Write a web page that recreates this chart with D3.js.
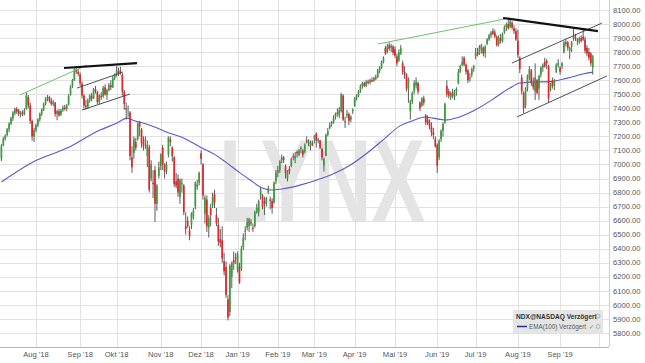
<!DOCTYPE html>
<html>
<head>
<meta charset="utf-8">
<script src="https://cdn.jsdelivr.net/npm/d3@7"></script>
<style>
  body { margin: 0; background: #fff; }
  svg { display: block; font-family: "Liberation Sans", Arial, sans-serif; }
</style>
</head>
<body>
<div id="chart"></div>
<script>
const width = 645;
const height = 363;

// month gridlines: index of first trading day, label
const monthStarts = [18, 41, 60, 83, 104, 123, 144, 163, 184, 205, 227, 247, 269, 291, 311];
const monthLabels = ["Aug '18", "Sep '18", "Okt '18", "Nov '18", "Dez '18", "Jan '19", "Feb '19",
                     "Mar '19", "Apr '19", "Mai '19", "Jun '19", "Jul '19", "Aug '19", "Sep '19", ""];
const yTicks = d3.range(5800, 8101, 100);

// daily candles [open, high, low, close], Jul 2018 - Sep 2019
const candles = [
  // Jul 18
  [7040,7145,7025,7130],[7135,7195,7130,7185],[7185,7215,7170,7205],[7210,7260,7200,7250],
  [7250,7300,7230,7290],[7290,7340,7280,7330],[7330,7380,7310,7370],[7365,7405,7350,7395],
  [7395,7410,7360,7375],[7385,7395,7345,7360],[7360,7380,7335,7370],[7370,7385,7345,7355],
  [7360,7400,7350,7390],[7395,7510,7390,7490],[7480,7495,7400,7420],[7420,7440,7290,7310],
  [7310,7320,7170,7200],[7200,7260,7160,7245],
  // Aug 18
  [7245,7290,7230,7280],[7280,7330,7265,7320],[7320,7370,7305,7360],[7360,7400,7345,7390],
  [7390,7440,7380,7430],[7430,7480,7420,7470],[7470,7495,7450,7480],[7480,7490,7440,7455],
  [7455,7475,7420,7430],[7435,7460,7415,7445],[7440,7445,7340,7360],[7360,7390,7315,7380],
  [7380,7395,7340,7350],[7355,7395,7345,7385],[7385,7420,7375,7405],[7405,7425,7385,7395],
  [7395,7430,7380,7420],[7425,7500,7420,7490],[7495,7565,7490,7555],[7560,7610,7545,7600],
  [7600,7690,7595,7675],[7675,7700,7645,7660],[7660,7680,7630,7645],
  // Sep 18
  [7640,7655,7560,7580],[7575,7590,7470,7490],[7490,7500,7400,7420],[7420,7460,7390,7410],
  [7410,7470,7395,7455],[7455,7500,7440,7490],[7490,7510,7450,7470],[7470,7545,7465,7535],
  [7535,7560,7505,7520],[7515,7525,7430,7445],[7445,7500,7430,7490],[7490,7515,7460,7480],
  [7485,7560,7475,7545],[7550,7570,7490,7500],[7495,7540,7460,7530],[7530,7580,7520,7565],
  [7565,7600,7530,7550],[7550,7630,7545,7615],[7615,7650,7600,7640],
  // Okt 18
  [7650,7700,7625,7665],[7665,7690,7630,7650],[7670,7695,7640,7655],[7640,7650,7490,7520],
  [7520,7530,7390,7430],[7400,7440,7320,7390],[7385,7420,7340,7385],[7370,7380,7030,7060],
  [7050,7130,6940,6980],[7080,7200,7040,7180],[7160,7190,7100,7120],[7180,7300,7170,7290],
  [7300,7310,7200,7270],[7250,7260,7120,7150],[7160,7200,7100,7130],[7160,7200,7110,7180],
  [7060,7170,6980,7140],[7120,7140,6800,6820],[6900,7030,6880,7000],[6870,6960,6760,6860],
  [6960,6990,6590,6720],[6720,6860,6670,6850],[6920,7020,6900,6980],
  // Nov 18
  [6990,7080,6960,7070],[7120,7140,6960,7000],[7000,7010,6900,6950],[6950,7020,6930,7000],
  [7070,7200,7050,7195],[7180,7200,7130,7160],[7120,7130,7020,7060],[7050,7060,6840,6860],
  [6880,6940,6830,6850],[6900,6930,6770,6800],[6770,6900,6720,6890],[6860,6900,6800,6870],
  [6850,6860,6640,6660],[6560,6660,6500,6540],[6600,6630,6550,6560],[6530,6560,6460,6490],
  [6570,6660,6540,6650],[6630,6690,6610,6670],[6700,6880,6680,6870],[6840,6890,6820,6860],
  [6870,6950,6850,6940],
  // Dez 18
  [7080,7100,7000,7040],[7000,7010,6750,6780],[6650,6780,6580,6760],[6750,6780,6520,6560],
  [6550,6640,6480,6620],[6690,6720,6560,6640],[6710,6800,6690,6770],[6790,6820,6690,6730],
  [6640,6690,6560,6580],[6570,6620,6420,6450],[6470,6540,6410,6440],[6460,6560,6300,6330],
  [6310,6370,6210,6240],[6270,6310,6050,6070],[6040,6070,5890,5910],[5950,6290,5920,6280],
  [6200,6310,6120,6300],[6320,6380,6250,6300],[6340,6370,6290,6330],
  // Jan 19
  [6250,6380,6230,6360],[6270,6300,6150,6160],[6260,6420,6240,6400],[6410,6510,6390,6480],
  [6520,6560,6460,6530],[6550,6620,6530,6590],[6560,6620,6520,6610],[6590,6610,6560,6580],
  [6550,6580,6520,6540],[6560,6670,6550,6660],[6660,6720,6650,6690],[6660,6750,6630,6740],
  [6780,6840,6750,6820],[6780,6790,6680,6700],[6740,6770,6640,6720],[6720,6770,6700,6760],
  [6800,6850,6790,6830],[6750,6770,6680,6740],[6740,6760,6650,6690],[6730,6880,6720,6870],
  [6880,6960,6860,6940],
  // Feb 19
  [6940,6990,6910,6960],[6960,7030,6940,7020],[7030,7070,7010,7050],[7050,7060,7010,7030],
  [6990,7000,6900,6940],[6900,6960,6880,6950],[6970,6990,6930,6950],[6990,7050,6980,7040],
  [7060,7080,7030,7050],[7040,7090,7010,7060],[7090,7100,7050,7080],[7070,7110,7060,7100],
  [7110,7130,7080,7120],[7100,7110,7050,7070],[7090,7150,7080,7140],[7170,7200,7150,7160],
  [7150,7180,7130,7160],[7130,7170,7100,7160],[7150,7170,7130,7140],
  // Mar 19
  [7190,7210,7150,7200],[7220,7230,7120,7170],[7170,7190,7150,7180],[7170,7175,7110,7120],
  [7110,7120,7030,7050],[6990,7050,6950,7040],[7060,7220,7060,7210],[7210,7260,7200,7240],
  [7260,7300,7250,7280],[7290,7310,7270,7300],[7300,7350,7290,7330],[7340,7370,7320,7360],
  [7370,7400,7340,7360],[7350,7410,7330,7390],[7380,7510,7370,7500],[7490,7500,7310,7320],
  [7300,7340,7260,7310],[7350,7390,7330,7360],[7360,7370,7280,7310],[7320,7350,7300,7340],
  [7380,7400,7360,7390],
  // Apr 19
  [7420,7480,7410,7470],[7470,7500,7455,7490],[7490,7530,7480,7520],[7520,7570,7510,7560],
  [7560,7590,7540,7580],[7580,7590,7550,7560],[7560,7600,7550,7590],[7590,7605,7570,7580],
  [7585,7610,7570,7600],[7600,7620,7585,7590],[7595,7625,7590,7615],[7620,7640,7600,7610],
  [7620,7680,7615,7670],[7670,7700,7650,7690],[7690,7740,7680,7730],[7730,7770,7720,7760],
  [7830,7845,7780,7790],[7800,7860,7790,7840],[7850,7870,7810,7825],[7830,7860,7800,7845],
  [7840,7850,7780,7795],
  // Mai 19
  [7820,7840,7760,7775],[7770,7790,7700,7720],[7740,7820,7730,7800],[7790,7850,7780,7830],
  [7720,7740,7640,7660],[7660,7700,7610,7640],[7640,7650,7520,7540],[7540,7620,7440,7610],
  [7380,7460,7320,7450],[7450,7520,7430,7510],[7520,7600,7500,7580],[7560,7620,7540,7590],
  [7580,7590,7500,7520],[7440,7450,7380,7400],[7420,7480,7410,7470],[7470,7490,7420,7440],
  [7350,7360,7280,7300],[7320,7350,7280,7290],[7300,7320,7250,7270],[7270,7300,7200,7230],
  [7230,7260,7180,7210],[7180,7200,7120,7130],
  // Jun 19
  [7140,7150,6940,6990],[7050,7180,7030,7170],[7180,7250,7160,7240],[7240,7300,7200,7290],
  [7300,7440,7290,7430],[7560,7600,7480,7500],[7520,7540,7470,7490],[7480,7520,7460,7510],
  [7510,7540,7470,7490],[7480,7530,7460,7520],[7520,7550,7490,7540],[7580,7680,7570,7660],
  [7660,7710,7650,7700],[7710,7770,7700,7730],[7760,7770,7700,7710],[7710,7720,7640,7660],
  [7670,7680,7580,7600],[7610,7650,7590,7620],[7640,7690,7620,7680],[7680,7710,7660,7700],
  // Jul 19
  [7770,7830,7750,7790],[7800,7830,7770,7780],[7790,7850,7780,7840],[7820,7860,7790,7850],
  [7830,7840,7770,7790],[7790,7850,7760,7840],[7860,7900,7850,7890],[7890,7930,7880,7920],
  [7920,7950,7900,7940],[7950,7970,7920,7930],[7940,7960,7900,7910],[7910,7920,7840,7850],
  [7860,7920,7840,7900],[7900,7930,7860,7880],[7880,7940,7870,7930],[7940,7990,7930,7980],
  [7980,8010,7950,8000],[8000,8040,7960,7970],[7980,8040,7970,8020],[8010,8020,7960,7975],
  [7970,7990,7930,7950],[7950,7970,7880,7890],
  // Aug 19
  [7880,7960,7760,7780],[7760,7770,7650,7680],[7620,7640,7500,7520],[7510,7520,7365,7400],
  [7420,7550,7400,7540],[7540,7640,7520,7630],[7620,7700,7600,7680],[7670,7680,7560,7580],
  [7580,7620,7530,7550],[7520,7720,7460,7620],[7600,7610,7500,7510],[7540,7640,7460,7630],
  [7640,7700,7620,7690],[7690,7720,7660,7710],[7730,7760,7690,7700],[7740,7750,7680,7720],
  [7700,7710,7440,7470],[7540,7580,7520,7570],[7600,7620,7540,7560],[7560,7610,7530,7600],
  [7660,7720,7650,7710],[7710,7750,7690,7725],
  // Sep 19
  [7690,7700,7640,7660],[7700,7730,7680,7720],[7800,7880,7790,7870],[7870,7890,7840,7860],
  [7870,7880,7810,7830],[7810,7840,7750,7830],[7840,7880,7800,7870],[7900,7970,7880,7910],
  [7910,7930,7880,7895],[7880,7900,7850,7890],[7870,7910,7860,7900],[7900,7920,7870,7880],
  [7910,7960,7880,7890],[7890,7910,7790,7810],[7830,7850,7770,7790],[7800,7830,7740,7760],
  [7790,7800,7700,7720],[7690,7780,7640,7770]
];

// EMA(100): [trading day index, value]
const emaPts = [
  [0,6875],[16.5,7017],[34.2,7117],[51.4,7245],[60.2,7295],[65.4,7330],[68.5,7315],
  [77.4,7280],[86.3,7230],[94.6,7190],[103.4,7125],[111.3,7070],[116.5,7020],[124.3,6940],
  [129.5,6890],[136.3,6830],[139.9,6818],[146.1,6825],[155.5,6853],[164.4,6890],[172.7,6932],
  [181.6,6995],[190.4,7080],[198.8,7175],[207.6,7275],[213.8,7310],[220.6,7338],[224.8,7330],
  [231,7317],[237.8,7335],[246.7,7388],[255.5,7460],[259.7,7500],[264.9,7545],[270.1,7580],
  [276.9,7587],[285.7,7590],[294.6,7615],[302.9,7644],[308,7658]
];

// drawn trend lines: [[i1, p1], [i2, p2]]
const greenLines = [[[9.7,7495],[44.6,7708]], [[196.1,7858],[262.3,8036]]];
const blackLines = [[[32.6,7687],[70.6,7722]], [[261.3,8043],[310.7,7950]]];
const channelLines = [
  [[39.4,7544],[63.3,7658]], [[42,7388],[67,7502]],
  [[265.9,7722],[312.8,8007]], [[268.5,7338],[315.4,7630]]
];

const svg = d3.select("#chart").append("svg")
  .attr("width", width)
  .attr("height", height);

const x = d3.scaleLinear().domain([0, 311]).range([1.4, 598.5]);
const y = d3.scaleLinear().domain([5800, 8100]).range([333, 10]);
const plotRight = 609;
const plotBottom = 347;

// grid
svg.append("g").selectAll("line")
  .data(yTicks)
  .join("line")
  .attr("x1", 0).attr("x2", plotRight)
  .attr("y1", d => Math.round(y(d)) + 0.5).attr("y2", d => Math.round(y(d)) + 0.5)
  .attr("stroke", "#e1e1e1");

svg.append("g").selectAll("line")
  .data(monthStarts)
  .join("line")
  .attr("x1", d => Math.round(x(d)) + 0.5).attr("x2", d => Math.round(x(d)) + 0.5)
  .attr("y1", 0).attr("y2", plotBottom)
  .attr("stroke", "#e1e1e1");

// watermark
svg.append("text")
  .attr("x", 219)
  .attr("y", 221)
  .attr("textLength", 206)
  .attr("lengthAdjust", "spacingAndGlyphs")
  .style("font-size", "116px")
  .style("font-weight", "bold")
  .attr("fill", "#e4e4e4")
  .text("LYNX");

// axes frame
svg.append("line").attr("x1", 0).attr("x2", plotRight).attr("y1", plotBottom + 0.5).attr("y2", plotBottom + 0.5)
  .attr("stroke", "#b5b5b5");
svg.append("line").attr("x1", plotRight + 0.5).attr("x2", plotRight + 0.5).attr("y1", 0).attr("y2", plotBottom)
  .attr("stroke", "#d0d0d0");

svg.append("g").selectAll("text")
  .data(yTicks)
  .join("text")
  .attr("x", 613)
  .attr("y", d => y(d))
  .attr("dy", "0.35em")
  .attr("fill", "#555")
  .style("font-size", "7.6px")
  .text(d => d3.format(".2f")(d));

svg.append("g").selectAll("text")
  .data(monthStarts)
  .join("text")
  .attr("x", d => x(d))
  .attr("y", 357)
  .attr("text-anchor", "middle")
  .attr("fill", "#555")
  .style("font-size", "7.6px")
  .text((d, i) => monthLabels[i]);

// EMA(100)
svg.append("path")
  .datum(emaPts)
  .attr("fill", "none")
  .attr("stroke", "#5a5ac8")
  .attr("stroke-width", 1.1)
  .attr("d", d3.line().curve(d3.curveMonotoneX).x(d => x(d[0])).y(d => y(d[1])));

// candles
const candleColor = d => d[3] > d[0] ? "#3a9f3a" : d[3] < d[0] ? "#e2262b" : "#9a9a9a";
const cg = svg.append("g");
cg.selectAll("line")
  .data(candles)
  .join("line")
  .attr("x1", (d, i) => x(i)).attr("x2", (d, i) => x(i))
  .attr("y1", d => y(d[1])).attr("y2", d => y(d[2]))
  .attr("stroke", "#4a4a4a")
  .attr("stroke-width", 0.9);
cg.selectAll("rect")
  .data(candles)
  .join("rect")
  .attr("x", (d, i) => x(i) - 0.85)
  .attr("width", 1.7)
  .attr("y", d => y(Math.max(d[0], d[3])))
  .attr("height", d => Math.max(1, Math.abs(y(d[0]) - y(d[3]))))
  .attr("fill", candleColor);

// trend lines
const seg = (lines, color, w) => {
  svg.append("g").selectAll("line")
    .data(lines)
    .join("line")
    .attr("x1", d => x(d[0][0])).attr("y1", d => y(d[0][1]))
    .attr("x2", d => x(d[1][0])).attr("y2", d => y(d[1][1]))
    .attr("stroke", color)
    .attr("stroke-width", w);
};
seg(greenLines, "#6cc26c", 1);
seg(channelLines, "#3c3c3c", 0.9);
seg(blackLines, "#111", 2.2);

// legend
const lg = svg.append("g");
lg.append("rect").attr("x", 513).attr("y", 310).attr("width", 90).attr("height", 23).attr("fill", "#e5e5e5");
lg.append("text").attr("x", 516).attr("y", 318.5).style("font-size", "6.6px").style("font-weight", "bold")
  .attr("fill", "#333").text("NDX@NASDAQ Verzögert");
lg.append("circle").attr("cx", 598).attr("cy", 316).attr("r", 2).attr("fill", "none").attr("stroke", "#9aa").attr("stroke-width", 0.8);
lg.append("line").attr("x1", 517).attr("x2", 527).attr("y1", 326.5).attr("y2", 326.5).attr("stroke", "#2b2b8c").attr("stroke-width", 1.5);
lg.append("text").attr("x", 529).attr("y", 329).style("font-size", "6.3px").attr("fill", "#555").text("EMA(100) Verzögert");
lg.append("text").attr("x", 589).attr("y", 329).style("font-size", "5.5px").attr("fill", "#777").text("✓");
lg.append("circle").attr("cx", 598).attr("cy", 326.5).attr("r", 2).attr("fill", "none").attr("stroke", "#9aa").attr("stroke-width", 0.8);
</script>
</body>
</html>
